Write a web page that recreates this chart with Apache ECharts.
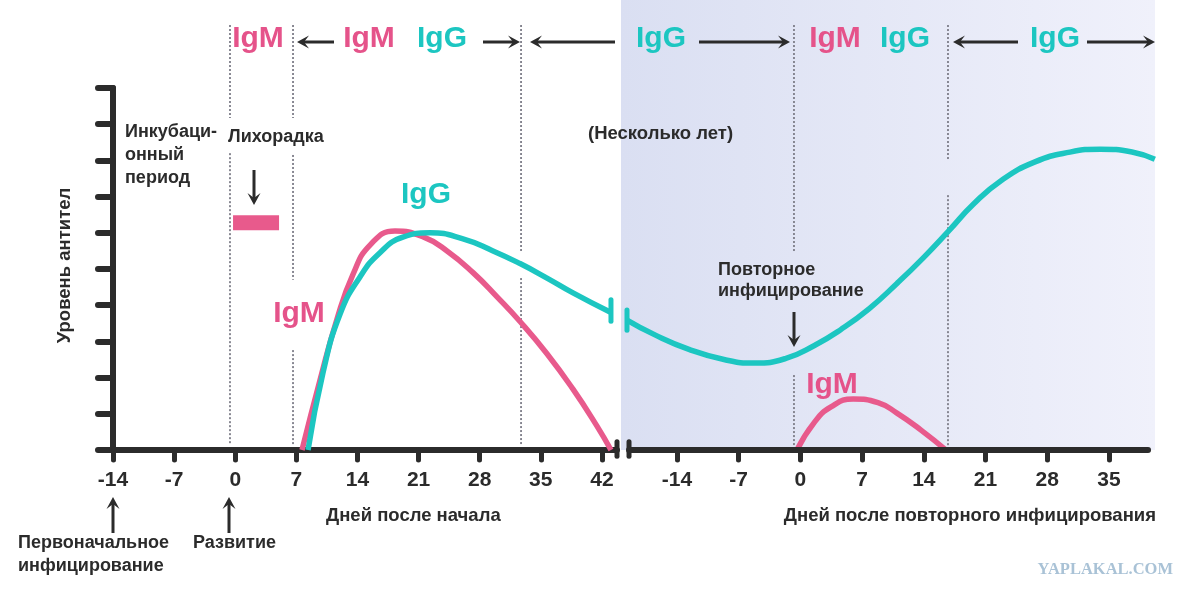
<!DOCTYPE html>
<html><head><meta charset="utf-8">
<script src="https://cdn.jsdelivr.net/npm/echarts@6/dist/echarts.min.js"></script>
<style>html,body{margin:0;padding:0;background:#fff}#c{width:1200px;height:600px}</style>
</head><body><div id="c"></div>
<script>
// ---- data ----
const primaryTicks = [-14, -7, 0, 7, 14, 21, 28, 35, 42];
const secondaryTicks = [-14, -7, 0, 7, 14, 21, 28, 35];
const igmPrimary = [[7.65,0],[9.71,1.93],[11.66,3.62],[13.49,4.85],[15.44,5.66],[18.3,6.05],[21.6,5.88],[24.26,5.5],[27.24,4.9],[29.99,4.23],[32.62,3.55],[35.71,2.66],[38.69,1.68],[41.44,0.66],[43.04,0]];
const iggPrimary = [[8.34,0],[10.05,2.13],[12.0,3.75],[14.29,4.78],[16.58,5.45],[19.2,5.88],[22.3,6.0],[26.0,5.84],[29.53,5.50],[32.62,5.15],[35.71,4.75],[38.69,4.34],[42.93,3.81]];
const iggSecondary = [[-19.67,3.59],[-16.5,3.18],[-12.64,2.78],[-8.67,2.50],[-5.2,2.40],[-1.64,2.53],[1.54,2.88],[4.60,3.33],[7.78,3.90],[10.95,4.60],[14.02,5.33],[16.85,6.06],[19.58,6.78],[22.75,7.44],[26.61,7.96],[30.58,8.23],[34.0,8.31],[37.61,8.23],[40.2,8.03]];
const igmSecondary = [[-0.39,0],[1.54,0.75],[3.47,1.19],[6.0,1.41],[8.8,1.31],[10.95,1.02],[13.68,0.55],[16.51,0]];
const feverPeriod = [[-0.25,6.28],[5.02,6.28]];
const iggBreakPrimary = [[43.04,3.56],[43.04,4.15]];
const iggBreakSecondary = [[-19.67,3.31],[-19.67,3.87]];
const axisBreakPrimary = [[43.73,-0.17],[43.73,0.23]];
const axisBreakSecondary = [[-19.44,-0.17],[-19.44,0.23]];
const baselineSecondary = [[-19.44,0],[39.43,0]];
// dotted phase dividers: [day, [top, bottom], [top, bottom] ...]
const dividersPrimary = [[-0.60,[11.74,9.17],[8.20,0.14]],[6.62,[11.74,9.17],[8.15,4.70],[2.76,0.14]],[32.74,[11.74,5.47],[4.75,0.14]]];
const dividersSecondary = [[-0.73,[11.74,5.44],[2.07,0.08]],[16.74,[11.74,8.01],[7.04,0.08]]];

// ---- style ----
const PINK = '#e85a8c', PINKT = '#e5538a', TEAL = '#1cc6c1', DARK = '#2b2b2b', DOT = '#7d7d88';
const FF = '"Liberation Sans", Arial, sans-serif';

const chart = echarts.init(document.getElementById('c'), null, {renderer:'canvas'});

function line(data, ax, style, extra) {
  return Object.assign({type:'line', xAxisIndex:ax, yAxisIndex:ax, data:data, symbol:'none', showSymbol:false, clip:false, silent:true, lineStyle:style, z:3}, extra || {});
}
const series = [];
function addDividers(list, ax) {
  list.forEach(function (d) {
    for (let i = 1; i < d.length; i++) {
      series.push(line([[d[0], d[i][0]], [d[0], d[i][1]]], ax, {color:DOT, width:1.8, type:[2,2]}, {z:1}));
    }
  });
}
addDividers(dividersPrimary, 0);
addDividers(dividersSecondary, 1);
const curveOpts = {smooth:0.5};
series.push(line(igmPrimary, 0, {color:PINK, width:5.5}, curveOpts));
series.push(line(iggPrimary, 0, {color:TEAL, width:5.5}, Object.assign({z:4}, curveOpts)));
series.push(line(iggSecondary, 1, {color:TEAL, width:5.5}, Object.assign({z:4}, curveOpts)));
series.push(line(igmSecondary, 1, {color:PINK, width:5.5}, curveOpts));
series.push(line(feverPeriod, 0, {color:PINK, width:15, cap:'butt'}));
series.push(line(iggBreakPrimary, 0, {color:TEAL, width:5, cap:'round'}, {z:5}));
series.push(line(iggBreakSecondary, 1, {color:TEAL, width:5, cap:'round'}, {z:5}));
series.push(line(axisBreakPrimary, 0, {color:DARK, width:5, cap:'round'}, {z:5}));
series.push(line(axisBreakSecondary, 1, {color:DARK, width:5, cap:'round'}, {z:5}));
series.push(line(baselineSecondary, 1, {color:DARK, width:6, cap:'round'}, {z:5}));

function xAxisCfg(grid, min, max, ticks, showLine) {
  return {
    gridIndex:grid, type:'value', min:min, max:max,
    axisLine:{show:showLine, onZero:false, lineStyle:{color:DARK, width:6, cap:'round'}},
    axisTick:{show:true, length:10, customValues:ticks, lineStyle:{color:DARK, width:5, cap:'round'}},
    axisLabel:{show:true, customValues:ticks, margin:20, fontSize:21, fontWeight:'bold', color:DARK, fontFamily:FF},
    splitLine:{show:false}
  };
}

// ---- annotations ----
const graphics = [];
function txt(t, x, y, size, color, align, extra) {
  graphics.push(Object.assign({type:'text', z:10, silent:true, style:{text:t, x:x, y:y, fill:color, fontSize:size, fontWeight:'bold', fontFamily:FF, align:align || 'left', verticalAlign:'middle'}}, extra || {}));
}
function arrow(x1, y1, x2, y2) {
  const dx = x2 - x1, dy = y2 - y1, L = Math.hypot(dx, dy), ux = dx / L, uy = dy / L, px = -uy, py = ux;
  const hl = 12, hw = 6.5, nt = 7;
  graphics.push({type:'line', z:10, silent:true, shape:{x1:x1, y1:y1, x2:x2 - ux * nt, y2:y2 - uy * nt}, style:{stroke:DARK, lineWidth:3}});
  graphics.push({type:'polygon', z:10, silent:true, shape:{points:[[x2, y2], [x2 - ux * hl + px * hw, y2 - uy * hl + py * hw], [x2 - ux * nt, y2 - uy * nt], [x2 - ux * hl - px * hw, y2 - uy * hl - py * hw]]}, style:{fill:DARK}});
}
// top phase row
txt('IgM', 258, 39, 30, PINKT, 'center');
txt('IgM', 369, 39, 30, PINKT, 'center');
txt('IgG', 442, 39, 30, TEAL, 'center');
txt('IgG', 661, 39, 30, TEAL, 'center');
txt('IgM', 835, 39, 30, PINKT, 'center');
txt('IgG', 905, 39, 30, TEAL, 'center');
txt('IgG', 1055, 39, 30, TEAL, 'center');
arrow(334, 42, 297, 42);
arrow(483, 42, 520, 42);
arrow(615, 42, 530, 42);
arrow(699, 42, 790, 42);
arrow(1018, 42, 953, 42);
arrow(1087, 42, 1155, 42);
// curve labels
txt('IgG', 426, 195, 30, TEAL, 'center');
txt('IgM', 299, 314, 30, PINKT, 'center');
txt('IgM', 832, 385, 30, PINKT, 'center');
// notes
txt('Инкубаци-', 125, 132.5, 18, DARK);
txt('онный', 125, 155.5, 18, DARK);
txt('период', 125, 178.5, 18, DARK);
txt('Лихорадка', 228, 137.5, 18, DARK);
arrow(254, 170, 254, 205);
txt('(Несколько лет)', 588, 133.5, 18.5, DARK);
txt('Повторное', 718, 270, 18, DARK);
txt('инфицирование', 718, 291, 18, DARK);
arrow(794, 312, 794, 347);
txt('Дней после начала', 326, 516, 18.5, DARK);
txt('Дней после повторного инфицирования', 1156, 516, 18.5, DARK, 'right');
arrow(113, 533, 113, 497);
arrow(229, 533, 229, 497);
txt('Первоначальное', 18, 543.5, 18, DARK);
txt('инфицирование', 18, 566, 18, DARK);
txt('Развитие', 193, 543.5, 18, DARK);
graphics.push({type:'text', z:10, silent:true, style:{text:'YAPLAKAL.COM', x:1173, y:570, fill:'#a9c2d6', fontSize:16.5, fontWeight:'bold', fontFamily:'"Liberation Serif", "DejaVu Serif", serif', align:'right', verticalAlign:'middle'}});

const option = {
  animation:false,
  backgroundColor:'#ffffff',
  grid:[
    {left:113, right:583, top:88, bottom:150, containLabel:false},
    {left:621, right:45, top:0, bottom:150, containLabel:false, show:true, borderWidth:0,
     backgroundColor:new echarts.graphic.LinearGradient(0, 0, 1, 0, [{offset:0, color:'#dadff2'}, {offset:1, color:'#f0f1fb'}])}
  ],
  xAxis:[
    xAxisCfg(0, -14, 43.73, primaryTicks, true),
    xAxisCfg(1, -20.35, 40.22, secondaryTicks, false)
  ],
  yAxis:[
    {gridIndex:0, type:'value', min:0, max:10, interval:1,
     axisLine:{show:true, onZero:false, lineStyle:{color:DARK, width:6, cap:'round'}},
     axisTick:{show:true, length:15, lineStyle:{color:DARK, width:6, cap:'round'}},
     axisLabel:{show:false}, splitLine:{show:false},
     name:'Уровень антител', nameLocation:'middle', nameRotate:90, nameGap:39,
     nameTextStyle:{fontSize:18.5, fontWeight:'bold', color:DARK, fontFamily:FF, padding:[0, 0, 0, 7]}},
    {gridIndex:1, type:'value', min:0, max:12.431, show:false}
  ],
  series:series,
  graphic:graphics
};
chart.setOption(option);
</script>
</body></html>
